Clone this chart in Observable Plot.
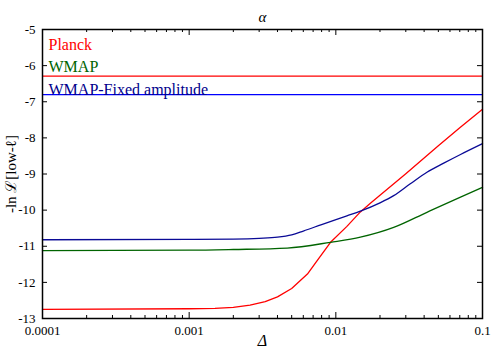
<!DOCTYPE html>
<html><head><meta charset="utf-8">
<script src="https://cdn.jsdelivr.net/npm/d3@7"></script>
<script src="https://cdn.jsdelivr.net/npm/@observablehq/plot@0.6"></script>
<style>
body{margin:0;background:#fff}
svg, svg text, svg g {font-family:"Liberation Serif","Times New Roman",serif !important}
</style>
</head><body><div id="chart"></div>
<script>
// ---- data ----
const planckX = [0.0001, 0.001, 0.0015, 0.002, 0.0026, 0.0033, 0.004, 0.005, 0.0064, 0.00746, 0.0092, 0.0119, 0.0147, 0.0172, 0.02, 0.03, 0.05, 0.07, 0.1];
const planckY = [-12.75, -12.73, -12.72, -12.69, -12.63, -12.53, -12.40, -12.17, -11.77, -11.40, -10.89, -10.45, -10.05, -9.81, -9.59, -8.99, -8.22, -7.72, -7.21];
const wmapX = [0.0001, 0.001, 0.002, 0.00466, 0.0092, 0.0147, 0.0248, 0.0418, 0.0708, 0.1];
const wmapY = [-11.12, -11.11, -11.09, -11.05, -10.89, -10.75, -10.48, -10.06, -9.64, -9.37];
const fixedX = [0.0001, 0.001, 0.002, 0.003, 0.004, 0.005, 0.006, 0.008, 0.0119, 0.0147, 0.02, 0.0248, 0.0322, 0.0418, 0.0544, 0.0708, 0.1];
const fixedY = [-10.82, -10.81, -10.80, -10.78, -10.75, -10.685, -10.58, -10.40, -10.16, -10.03, -9.80, -9.60, -9.27, -8.95, -8.70, -8.46, -8.16];
const planckLevel = -6.29;   // horizontal reference line (red)
const fixedLevel = -6.80;    // horizontal reference line (blue)
const seriesNames = ["Planck", "WMAP", "WMAP-Fixed amplitude"];
const seriesColors = ["#ff0000", "#006400", "#00008c"];
const xTicks = [0.0001, 0.001, 0.01, 0.1];
const xTickLabels = ["0.0001", "0.001", "0.01", "0.1"];
const minorMultipliers = [2, 3, 4, 5, 6, 7, 8, 9];
const yTicks = [-13, -12, -11, -10, -9, -8, -7, -6, -5];
const titleText = "α";
const xLabel = "Δ";
const yLabel = "-ln ℒ[low-ℓ]";

// ---- layout ----
const W = 500, H = 350, mL = 42, mR = 18, mT = 29, mB = 32;
const pw = W - mL - mR, ph = H - mT - mB;
const minorX = xTicks.slice(0, -1).flatMap(d => minorMultipliers.map(m => d * m));
const pts = (xs, ys) => xs.map((x, i) => ({x, y: ys[i]}));
const labelMap = new Map(xTicks.map((d, i) => [d, xTickLabels[i]]));
const FONT = "Liberation Serif";

const chart = Plot.plot({
  width: W, height: H,
  marginLeft: mL, marginRight: mR, marginTop: mT, marginBottom: mB,
  style: {fontFamily: FONT, fontSize: "13px", background: "#fff", color: "#000"},
  x: {type: "log", domain: [0.0001, 0.1]},
  y: {domain: [-13, -5]},
  marks: [
    Plot.ruleY([planckLevel], {stroke: "#ff0000", strokeWidth: 1.3}),
    Plot.ruleY([fixedLevel], {stroke: "#0000ff", strokeWidth: 1.3}),
    Plot.line(pts(planckX, planckY), {x: "x", y: "y", stroke: seriesColors[0], strokeWidth: 1.3}),
    Plot.line(pts(wmapX, wmapY), {x: "x", y: "y", stroke: seriesColors[1], strokeWidth: 1.3, curve: "monotone-x"}),
    Plot.line(pts(fixedX, fixedY), {x: "x", y: "y", stroke: "#0a0a96", strokeWidth: 1.3, curve: "monotone-x"}),
    // inward ticks
    Plot.ruleX(xTicks, {x: d => d, insetTop: ph - 6, stroke: "#000"}),
    Plot.ruleX(xTicks, {x: d => d, insetBottom: ph - 6, stroke: "#000"}),
    Plot.ruleX(minorX, {x: d => d, insetTop: ph - 3, stroke: "#000"}),
    Plot.ruleX(minorX, {x: d => d, insetBottom: ph - 3, stroke: "#000"}),
    Plot.ruleY(yTicks, {y: d => d, insetRight: pw - 5, stroke: "#000"}),
    Plot.ruleY(yTicks, {y: d => d, insetLeft: pw - 5, stroke: "#000"}),
    Plot.frame({stroke: "#000", strokeWidth: 1.5}),
    Plot.axisX({ticks: xTicks, tickSize: 0, tickPadding: 7, tickFormat: d => labelMap.get(d), label: null, fontSize: 13, fontFamily: FONT}),
    Plot.axisY({ticks: yTicks, tickSize: 0, tickPadding: 7, tickFormat: d => `${d}`, label: null, fontSize: 13, fontFamily: FONT}),
    // legend text
    ...seriesNames.map((name, i) => Plot.text([name], {frameAnchor: "top-left", text: d => d, dx: 6, dy: 9 + i * 22.5, lineAnchor: "top", textAnchor: "start", fill: seriesColors[i], fontSize: 16, fontFamily: FONT})),
    Plot.text([titleText], {frameAnchor: "top", text: d => d, dy: -12.5, lineAnchor: "middle", fontStyle: "italic", fontSize: 15, fontFamily: FONT}),
    Plot.text([xLabel], {frameAnchor: "bottom", text: d => d, dy: 22, lineAnchor: "middle", fontStyle: "italic", fontSize: 16, fontFamily: FONT}),
    Plot.text([yLabel], {frameAnchor: "left", text: d => d, dx: -31, rotate: -90, lineAnchor: "middle", textAnchor: "middle", fontSize: 15, fontFamily: FONT})
  ]
});
document.getElementById("chart").append(chart);
</script></body></html>
